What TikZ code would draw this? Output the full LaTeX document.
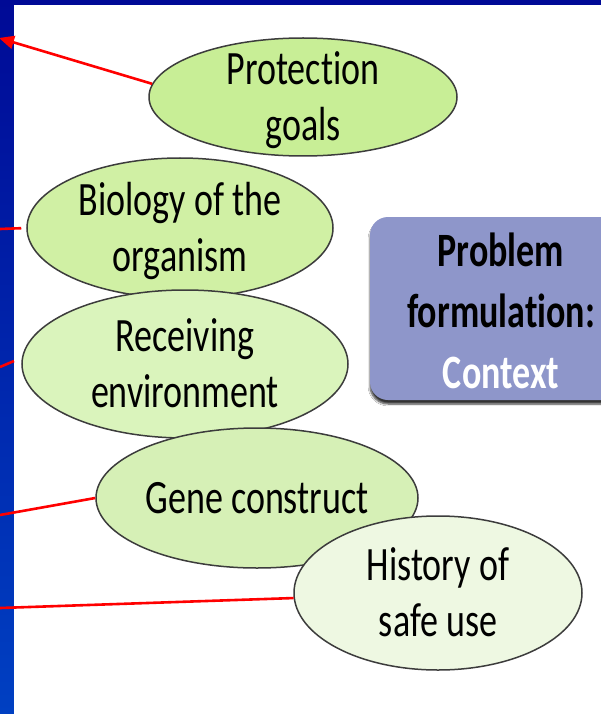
\documentclass[tikz,border=0pt]{standalone}
\usepackage{fontspec}
\setmainfont[Ligatures=NoCommon]{Carlito}
\usetikzlibrary{shapes.geometric,arrows.meta,shadows.blur}

\definecolor{navytop}{HTML}{000A96}
\definecolor{navybot}{HTML}{0040C2}
\definecolor{greenA}{HTML}{C8EE96}
\definecolor{greenB}{HTML}{D0F0A4}
\definecolor{greenC}{HTML}{DAF4BC}
\definecolor{greenD}{HTML}{D6F0B6}
\definecolor{greenE}{HTML}{EEF8E2}
\definecolor{rimgray}{HTML}{3C3C3C}
\definecolor{lilac}{HTML}{8E96CA}

% condensed-looking text: 36pt type stretched vertically
\newcommand{\tallstack}[2]{\scalebox{1}[1.33]{\fontsize{36}{#1}\selectfont\begin{tabular}{@{}c@{}}#2\end{tabular}}}

\tikzset{
  blob/.style={ellipse, draw=rimgray, line width=1.5pt, inner sep=0pt},
  blobtext/.style={inner sep=0pt, text=black, yshift=-4pt},
  redline/.style={draw=red, line width=2.6pt},
}

\begin{document}
\begin{tikzpicture}[x=1pt,y=-1pt]
\useasboundingbox (0,0) rectangle (601,714);
\clip (0,0) rectangle (601,714);

% slide background and white panel
\shade[top color=navytop, bottom color=navybot] (0,0) rectangle (601,714);
\fill[white] (14,5) rectangle (601,714);

% stacked ellipses, top to bottom
\node[blob, fill=greenA, minimum width=308pt, minimum height=118pt] (prot) at (303,97) {};
\node[blobtext] (protT) at (prot.center) {\tallstack{42}{Protection\\goals}};

\node[blob, fill=greenB, minimum width=306pt, minimum height=140pt] (bio) at (180,228) {};
\node[blobtext] (bioT) at (bio.center) {\tallstack{42}{Biology of the\\organism}};

\node[blob, fill=greenC, minimum width=326pt, minimum height=148pt] (recv) at (185,364) {};
\node[blobtext] (recvT) at (recv.center) {\tallstack{42}{Receiving\\environment}};

\node[blob, fill=greenD, minimum width=322pt, minimum height=140pt] (gene) at (257,498) {};
\node[blobtext] (geneT) at (gene.center) {\tallstack{42}{Gene construct}};

\node[blob, fill=greenE, minimum width=288pt, minimum height=154pt] (hist) at (438,593) {};
\node[blobtext] (histT) at (hist.center) {\tallstack{42}{History of\\safe use}};

% title panel
\node[fill=lilac, rounded corners=18pt, minimum width=262pt, minimum height=183pt,
      inner sep=0pt, blur shadow={shadow xshift=0pt, shadow yshift=-4pt, shadow blur steps=6, shadow opacity=80}]
      (title) at (501,308.5) {};
\node[inner sep=0pt, yshift=-7pt] (titleT) at (title.center)
      {\tallstack{46}{\bfseries Problem\\\bfseries formulation:\\\bfseries\color{white}Context}};

% free ends of the red leaders at the slide edge
\coordinate (endA) at (-1,38);
\coordinate (endB) at (0,229);
\coordinate (endCa) at (0,367);
\coordinate (endCb) at (14,361);
\coordinate (endD) at (0,515);
\coordinate (endE) at (0,608);

\draw[redline, -{Triangle[length=15pt, width=13pt]}] (prot.175) -- (endA);
\draw[redline, shorten <=5pt] (bio.west) -- (endB);
\draw[redline] (endCb) -- (endCa);
\draw[redline] (gene.west) -- (endD);
\draw[redline] (hist.182) -- (endE);
\end{tikzpicture}
\end{document}
